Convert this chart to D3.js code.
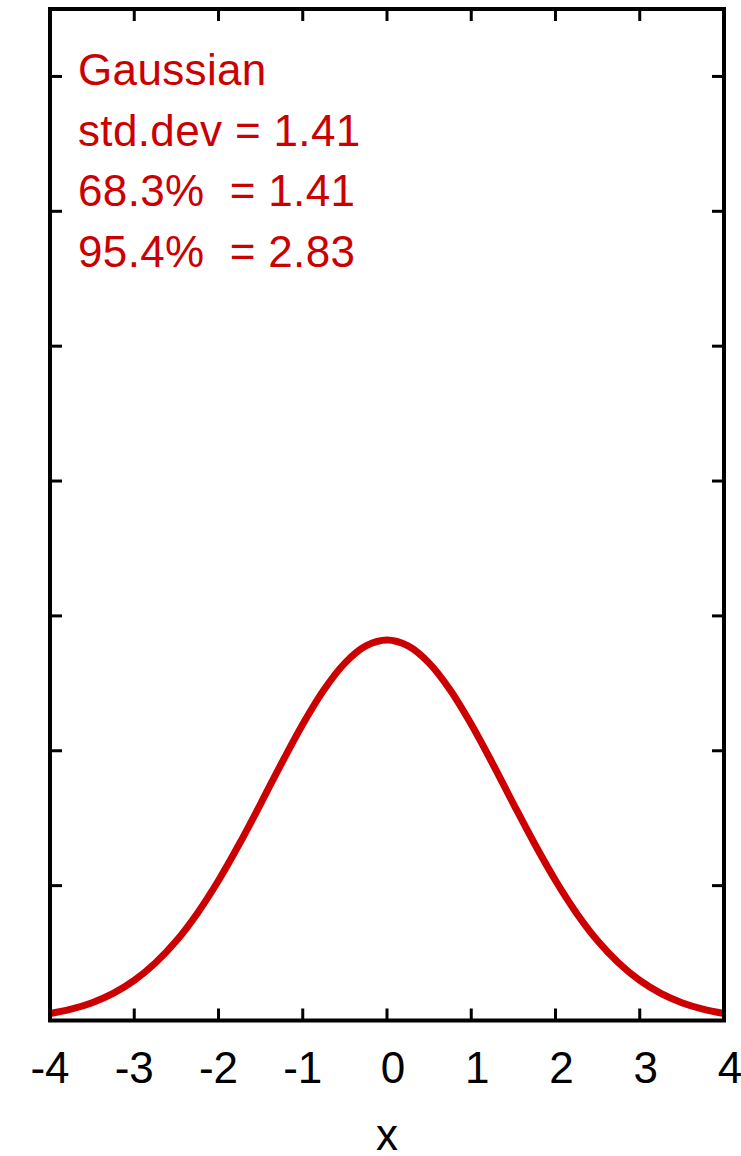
<!DOCTYPE html>
<html>
<head>
<meta charset="utf-8">
<script src="https://cdn.jsdelivr.net/npm/d3@7"></script>
<style>
  html, body { margin: 0; padding: 0; background: #fff; }
  svg { display: block; }
  text { font-family: "Liberation Sans", Arial, Helvetica, sans-serif; white-space: pre; }
</style>
</head>
<body>
<script>
// Sample points of the density curve
const xValues = [-4, -3.75, -3.5, -3.25, -3, -2.75, -2.5, -2.25, -2, -1.75, -1.5, -1.25, -1, -0.75, -0.5, -0.25,
  0, 0.25, 0.5, 0.75, 1, 1.25, 1.5, 1.75, 2, 2.25, 2.5, 2.75, 3, 3.25, 3.5, 3.75, 4];
const yValues = [0.0052, 0.0084, 0.0132, 0.0201, 0.0297, 0.0426, 0.0591, 0.0796, 0.1038, 0.1312, 0.1607, 0.1909,
  0.2197, 0.2451, 0.2650, 0.2777, 0.2821, 0.2777, 0.2650, 0.2451, 0.2197, 0.1909, 0.1607, 0.1312, 0.1038,
  0.0796, 0.0591, 0.0426, 0.0297, 0.0201, 0.0132, 0.0084, 0.0052];

// Axis ticks and labels (positive numbers keep a leading blank for the sign)
const xTicks = [-4, -3, -2, -1, 0, 1, 2, 3, 4];
const xTickLabels = ["-4", "-3", "-2", "-1", " 0", " 1", " 2", " 3", " 4"];
const yTicks = [0.1, 0.2, 0.3, 0.4, 0.5, 0.6, 0.7];
const xTitle = "x";

// Annotation lines
const annotations = ["Gaussian", "std.dev = 1.41", "68.3%  = 1.41", "95.4%  = 2.83"];

const W = 741, H = 1156;
const red = "#cc0000";
const fontSize = 44;

const svg = d3.select("body").append("svg").attr("width", W).attr("height", H);

const x = d3.scaleLinear().domain([-4, 4]).range([50, 724]);
const y = d3.scaleLinear().domain([0, 0.75]).range([1020.5, 9]);

const tickLen = 12;
const tickG = svg.append("g").attr("stroke", "#000").attr("stroke-width", 3);

// x ticks, inward on bottom and top
tickG.selectAll("line.xb").data(xTicks.slice(1, -1)).join("line")
  .attr("x1", d => x(d)).attr("x2", d => x(d))
  .attr("y1", y(0)).attr("y2", y(0) - tickLen);
tickG.selectAll("line.xt").data(xTicks.slice(1, -1)).join("line")
  .attr("x1", d => x(d)).attr("x2", d => x(d))
  .attr("y1", y(0.75)).attr("y2", y(0.75) + tickLen);

// y ticks, inward on left and right
tickG.selectAll("line.yl").data(yTicks).join("line")
  .attr("x1", x(-4)).attr("x2", x(-4) + tickLen)
  .attr("y1", d => y(d)).attr("y2", d => y(d));
tickG.selectAll("line.yr").data(yTicks).join("line")
  .attr("x1", x(4)).attr("x2", x(4) - tickLen)
  .attr("y1", d => y(d)).attr("y2", d => y(d));

// x tick labels
svg.append("g").selectAll("text").data(xTicks).join("text")
  .attr("x", d => x(d))
  .attr("y", 1083)
  .attr("text-anchor", "middle")
  .attr("font-size", fontSize)
  .attr("fill", "#000")
  .text((d, i) => xTickLabels[i]);

// x axis title
svg.append("text")
  .attr("x", x(0))
  .attr("y", 1150)
  .attr("text-anchor", "middle")
  .attr("font-size", fontSize)
  .attr("fill", "#000")
  .text(xTitle);

// curve
const line = d3.line()
  .x((d, i) => x(xValues[i]))
  .y(d => y(d))
  .curve(d3.curveCatmullRom);

svg.append("path")
  .datum(yValues)
  .attr("d", line)
  .attr("fill", "none")
  .attr("stroke", red)
  .attr("stroke-width", 7)
  .attr("stroke-linejoin", "round");

// frame
svg.append("rect")
  .attr("x", x(-4)).attr("y", y(0.75))
  .attr("width", x(4) - x(-4)).attr("height", y(0) - y(0.75))
  .attr("fill", "none").attr("stroke", "#000").attr("stroke-width", 4);

// annotations
svg.append("g").selectAll("text").data(annotations).join("text")
  .attr("x", 78)
  .attr("y", (d, i) => 85 + i * 60.5)
  .attr("font-size", fontSize)
  .attr("letter-spacing", 0.35)
  .attr("fill", red)
  .text(d => d);
</script>
</body>
</html>
